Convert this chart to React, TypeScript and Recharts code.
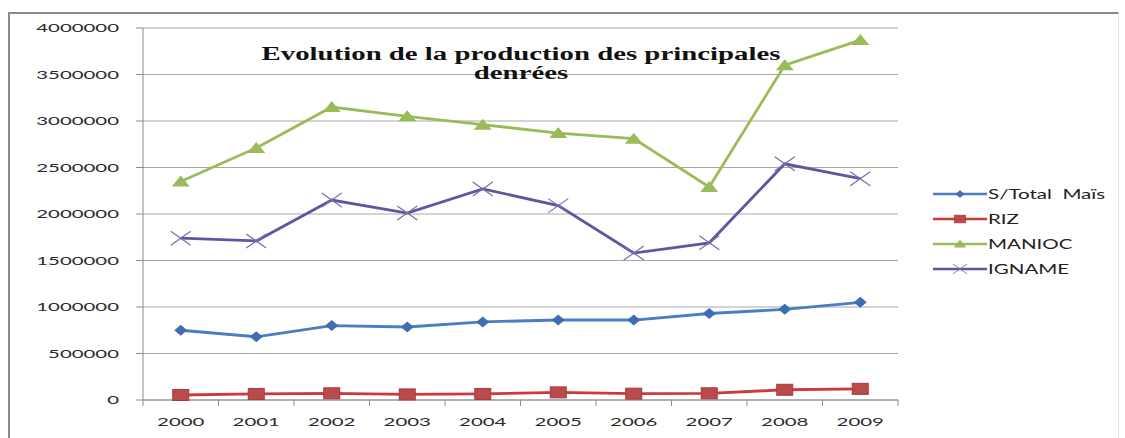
import React from 'react';
import { LineChart, Line, XAxis, YAxis, CartesianGrid } from 'recharts';

const YEARS = ['2000', '2001', '2002', '2003', '2004', '2005', '2006', '2007', '2008', '2009'];
const MAIS = [750000, 680000, 800000, 785000, 840000, 860000, 860000, 930000, 975000, 1050000];
const RIZ = [54000, 65000, 72000, 60000, 65000, 82000, 68000, 72000, 110000, 120000];
const MANIOC = [2350000, 2710000, 3150000, 3050000, 2960000, 2870000, 2810000, 2290000, 3600000, 3870000];
const IGNAME = [1740000, 1710000, 2150000, 2010000, 2270000, 2090000, 1580000, 1690000, 2540000, 2380000];
const Y_TICKS = [0, 500000, 1000000, 1500000, 2000000, 2500000, 3000000, 3500000, 4000000];

const TITLE_1 = 'Evolution de la production des principales';
const TITLE_2 = 'denrées';

const WIDTH = 1125;
const HEIGHT = 438;
const PLOT_LEFT = 143;
const PLOT_RIGHT = 898;
const HALF_BAND = (PLOT_RIGHT - PLOT_LEFT) / YEARS.length / 2;

const AXIS_GRAY = '#8c8c8c';
const FONT = 'Lato, "Open Sans", sans-serif';

const data = YEARS.map((year, i) => ({
  year,
  mais: MAIS[i],
  riz: RIZ[i],
  manioc: MANIOC[i],
  igname: IGNAME[i],
}));

// marker shapes, drawn around the point the library gives us
const diamond = (fill: string) => (props: any) => {
  const { cx, cy, index } = props;
  return <path key={index} d={`M${cx},${cy - 5.5} L${cx + 6.5},${cy} L${cx},${cy + 5.5} L${cx - 6.5},${cy} Z`} fill={fill} />;
};
const square = (fill: string) => (props: any) => {
  const { cx, cy, index } = props;
  return <rect key={index} x={cx - 8} y={cy - 5.5} width={16} height={11} fill={fill} stroke="#a23b3e" strokeWidth={1} />;
};
const triangle = (fill: string) => (props: any) => {
  const { cx, cy, index } = props;
  return <path key={index} d={`M${cx},${cy - 6} L${cx + 9},${cy + 5} L${cx - 9},${cy + 5} Z`} fill={fill} />;
};
const cross = (stroke: string) => (props: any) => {
  const { cx, cy, index } = props;
  return (
    <g key={index}>
      <line x1={cx - 10} y1={cy - 7} x2={cx + 10} y2={cy + 7} stroke={stroke} strokeWidth={1.2} />
      <line x1={cx - 10} y1={cy + 7} x2={cx + 10} y2={cy - 7} stroke={stroke} strokeWidth={1.2} />
    </g>
  );
};

const SERIES = [
  { key: 'mais', name: 'S/Total  Maïs', color: '#4a7dc4', dot: diamond('#3f6db3') },
  { key: 'riz', name: 'RIZ', color: '#d0393c', dot: square('#bb4a4d') },
  { key: 'manioc', name: 'MANIOC', color: '#9bbb59', dot: triangle('#9bbb59') },
  { key: 'igname', name: 'IGNAME', color: '#6553a0', dot: cross('#7a6ab0') },
];

const YTick = (props: any) => {
  const { x, y, payload } = props;
  return (
    <text
      transform={`translate(${x},${y}) scale(1.7,1)`}
      textAnchor="end"
      dy="0.36em"
      fontSize={12}
      fontFamily={FONT}
      fill="#2a2a2a"
    >
      {payload.value}
    </text>
  );
};

const XTick = (props: any) => {
  const { x, y, payload, index } = props;
  return (
    <g>
      <line x1={x - HALF_BAND} y1={y} x2={x - HALF_BAND} y2={y + 6} stroke={AXIS_GRAY} />
      {index === YEARS.length - 1 && (
        <line x1={x + HALF_BAND} y1={y} x2={x + HALF_BAND} y2={y + 6} stroke={AXIS_GRAY} />
      )}
      <text
        transform={`translate(${x},${y + 22}) scale(1.7,1)`}
        textAnchor="middle"
        dy="0.36em"
        fontSize={12}
        fontFamily={FONT}
        fill="#2a2a2a"
      >
        {payload.value}
      </text>
    </g>
  );
};

const LegendBox: React.FC = () => (
  <div style={{ position: 'absolute', left: 933, top: 181, fontFamily: FONT }}>
    {SERIES.map((s) => (
      <div key={s.key} style={{ display: 'flex', alignItems: 'center', height: 25 }}>
        <svg width={54} height={16}>
          <line x1={0} y1={8} x2={54} y2={8} stroke={s.color} strokeWidth={2.5} />
          <g transform="translate(27,8) scale(0.7)">{s.dot({ cx: 0, cy: 0, index: 0 })}</g>
        </svg>
        <span
          style={{
            fontSize: 13.5,
            color: '#222',
            display: 'inline-block',
            transform: 'scaleX(1.52)',
            transformOrigin: 'left center',
            marginLeft: 1,
            whiteSpace: 'pre',
          }}
        >
          {s.name}
        </span>
      </div>
    ))}
  </div>
);

const App: React.FC = () => {
  return (
    <div style={{ position: 'absolute', left: 0, top: 0, width: WIDTH, height: HEIGHT, background: '#fff', overflow: 'hidden' }}>
      <div
        style={{
          position: 'absolute',
          left: 8,
          top: 12,
          width: 1108,
          height: 440,
          borderTop: '2px solid #8a8a8a',
          borderLeft: '2px solid #8a8a8a',
          borderRight: '1px solid #e4e4e4',
        }}
      />
      <LineChart
        width={WIDTH}
        height={HEIGHT}
        data={data}
        margin={{ top: 28, right: WIDTH - PLOT_RIGHT, bottom: 0, left: 0 }}
        style={{ position: 'absolute', left: 0, top: 0 }}
      >
        <CartesianGrid vertical={false} stroke="#a8a8a8" />
        <XAxis
          dataKey="year"
          height={38}
          tickLine={false}
          tickSize={0}
          tickMargin={0}
          interval={0}
          padding={{ left: HALF_BAND, right: HALF_BAND }}
          stroke={AXIS_GRAY}
          tick={<XTick />}
        />
        <YAxis
          width={PLOT_LEFT}
          domain={[0, 4000000]}
          ticks={Y_TICKS}
          interval={0}
          tickSize={7}
          tickMargin={17}
          stroke={AXIS_GRAY}
          tick={<YTick />}
        />
        {SERIES.map((s) => (
          <Line
            key={s.key}
            type="linear"
            dataKey={s.key}
            name={s.name}
            stroke={s.color}
            strokeWidth={2.8}
            dot={s.dot}
            activeDot={false}
            isAnimationActive={false}
          />
        ))}
      </LineChart>
      <div
        style={{
          position: 'absolute',
          left: 521,
          top: 45,
          transform: 'translateX(-50%) scaleX(1.6)',
          fontFamily: '"Liberation Serif", "Times New Roman", serif',
          fontWeight: 'bold',
          fontSize: 18,
          lineHeight: '19px',
          textAlign: 'center',
          whiteSpace: 'nowrap',
          color: '#111',
        }}
      >
        {TITLE_1}
        <br />
        {TITLE_2}
      </div>
      <LegendBox />
    </div>
  );
};

export default App;
